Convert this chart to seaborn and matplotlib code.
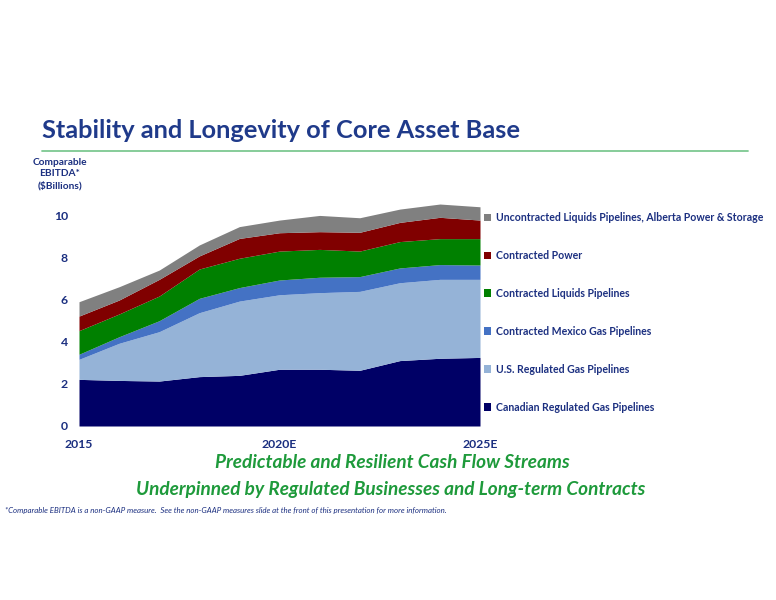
import matplotlib
matplotlib.use("Agg")
import matplotlib.pyplot as plt
import seaborn as sns
import pandas as pd
from matplotlib.patches import Patch
from matplotlib.lines import Line2D

years = list(range(2015, 2026))
tick_years = [2015, 2020, 2025]
tick_labels = ["2015", "2020E", "2025E"]

# cumulative tops, converted to layer values below
canadian = [2.21, 2.16, 2.13, 2.34, 2.40, 2.69, 2.69, 2.64, 3.10, 3.21, 3.25]
us_top = [3.16, 3.92, 4.47, 5.37, 5.92, 6.22, 6.32, 6.38, 6.79, 6.95, 6.95]
mexico_top = [3.40, 4.23, 4.99, 6.05, 6.56, 6.92, 7.05, 7.08, 7.49, 7.65, 7.63]
liquids_top = [4.52, 5.31, 6.16, 7.44, 7.95, 8.29, 8.37, 8.29, 8.74, 8.88, 8.88]
power_top = [5.21, 5.97, 6.95, 8.06, 8.89, 9.16, 9.21, 9.18, 9.65, 9.89, 9.76]
total_top = [5.89, 6.60, 7.39, 8.58, 9.45, 9.76, 9.98, 9.87, 10.28, 10.52, 10.39]

series_names = [
    "Canadian Regulated Gas Pipelines",
    "U.S. Regulated Gas Pipelines",
    "Contracted Mexico Gas Pipelines",
    "Contracted Liquids Pipelines",
    "Contracted Power",
    "Uncontracted Liquids Pipelines, Alberta Power & Storage",
]
colors = ["#000066", "#95B3D7", "#4472C4", "#008000", "#800000", "#808080"]

tops = [canadian, us_top, mexico_top, liquids_top, power_top, total_top]
layers = []
prev = [0.0] * len(years)
for t in tops:
    layers.append([a - b for a, b in zip(t, prev)])
    prev = t
df = pd.DataFrame({n: v for n, v in zip(series_names, layers)}, index=years)

sns.set_theme(style="white")
plt.rcParams['font.family'] = ['Lato', 'DejaVu Sans']

navy = "#1B2F80"
W, H = 776, 600
fig = plt.figure(figsize=(W / 100, H / 100), dpi=100)
ax = fig.add_axes([79 / W, 1 - 426 / H, 401 / W, 11 * 21.1 / H])

ax.stackplot(df.index, [df[c].values for c in series_names], colors=colors, linewidth=0)
ax.set_xlim(2015, 2025)
ax.set_ylim(0, 11)
ax.set_yticks([0, 2, 4, 6, 8, 10])
ax.set_xticks(tick_years)
ax.set_xticklabels(tick_labels)
for s in ax.spines.values():
    s.set_visible(False)
ax.tick_params(axis="both", length=0, labelsize=8.8, labelcolor=navy)
ax.tick_params(axis="y", pad=8)
ax.tick_params(axis="x", pad=9)
for lbl in ax.get_xticklabels() + ax.get_yticklabels():
    lbl.set_fontweight("bold")
ax.grid(False)

# legend
handles = [Patch(facecolor=c, edgecolor="none") for c in colors][::-1]
leg = fig.legend(handles, series_names[::-1], loc="upper left",
                 bbox_to_anchor=(484 / W, 1 - 212 / H), frameon=False,
                 fontsize=7.6, labelspacing=2.55, handlelength=0.7,
                 handleheight=0.7, handletextpad=0.4, borderaxespad=0, borderpad=0)
for t in leg.get_texts():
    t.set_color(navy)
    t.set_fontweight("bold")

# title and rule
fig.text(42 / W, 1 - 130 / H, "Stability and Longevity of Core Asset Base",
         fontsize=18.3, fontweight="bold", color="#1F3A8A", va="center", ha="left")
fig.add_artist(Line2D([42 / W, 748 / W], [1 - 151 / H, 1 - 151 / H],
                      color="#7DC891", linewidth=1.3))

# y-axis title
fig.text(60 / W, 1 - 174 / H, "Comparable\nEBITDA*\n($Billions)", fontsize=7.3,
         fontweight="bold", color=navy, ha="center", va="center", linespacing=1.35)

# bottom messages
green = "#1E9A3B"
fig.text(392 / W, 1 - 463 / H, "Predictable and Resilient Cash Flow Streams",
         fontsize=13.7, fontweight="bold", fontstyle="italic", color=green,
         ha="center", va="center")
fig.text(391 / W, 1 - 489 / H, "Underpinned by Regulated Businesses and Long-term Contracts",
         fontsize=13.7, fontweight="bold", fontstyle="italic", color=green,
         ha="center", va="center")
fig.text(5 / W, 1 - 510 / H,
         "*Comparable EBITDA is a non-GAAP measure.  See the non-GAAP measures slide at the front of this presentation for more information.",
         fontsize=5.7, fontstyle="italic", color=navy, ha="left", va="center")

fig.savefig("out.png", dpi=100, facecolor="white")
